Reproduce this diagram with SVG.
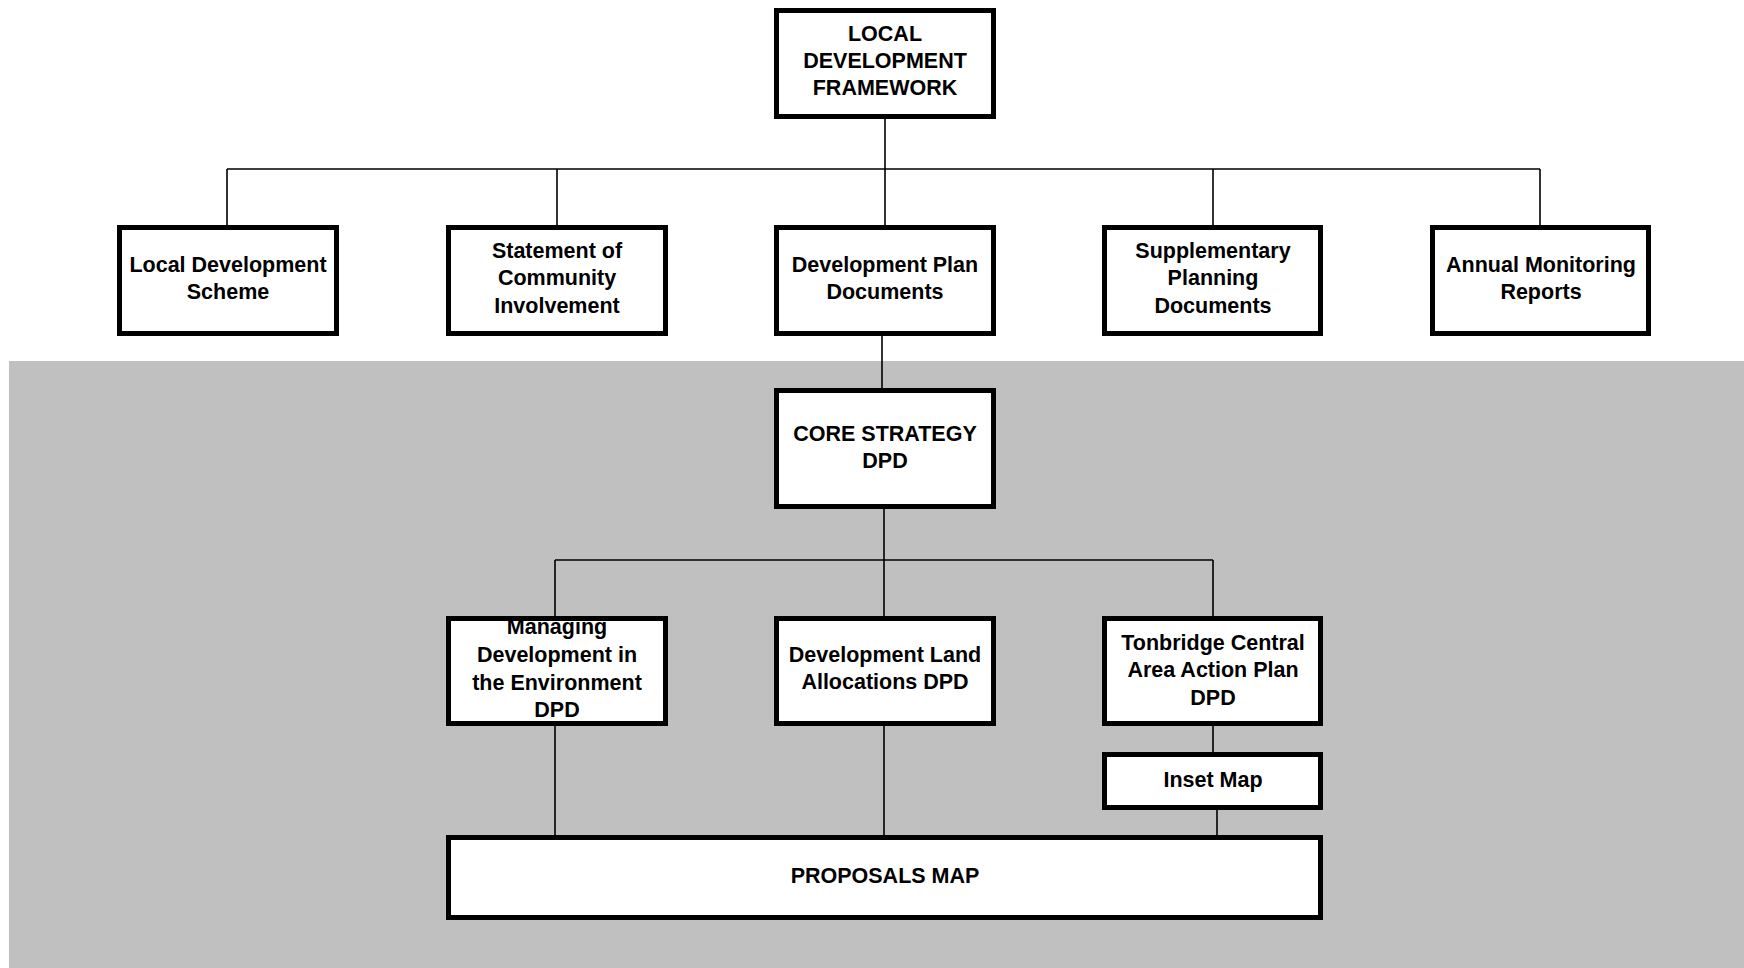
<svg xmlns="http://www.w3.org/2000/svg" width="1744" height="968" viewBox="0 0 1744 968">
<style>
.box{fill:#fff;stroke:#000;stroke-width:5}
.ln{stroke:#000;stroke-width:1.6;fill:none}
text{font-family:"Liberation Sans",Arial,sans-serif;font-weight:bold;font-size:21.5px;fill:#000;text-anchor:middle}
</style>
<rect x="0" y="0" width="1744" height="968" fill="#fff"/>
<rect x="9" y="361" width="1735" height="607" fill="#c0c0c0"/>
<g id="connectors">
<path class="ln" d="M885 118V169M227 169H1540M227 169V225M557 169V225M885 169V225M1213 169V225M1540 169V225"/>
<path class="ln" d="M882 335V388"/>
<path class="ln" d="M884 508V560M555 560H1213M555 560V616M884 560V616M1213 560V616"/>
<path class="ln" d="M555 725V835M884 725V835M1213 725V752M1217 809V835"/>
</g>
<g id="ldf"><rect class="box" x="776.5" y="10.5" width="217" height="106"/>
<text x="885" y="41">LOCAL</text><text x="885" y="68">DEVELOPMENT</text><text x="885" y="95">FRAMEWORK</text></g>
<g id="lds"><rect class="box" x="119.5" y="227.5" width="217" height="106"/>
<text x="228" y="272">Local Development</text><text x="228" y="299">Scheme</text></g>
<g id="sci"><rect class="box" x="448.5" y="227.5" width="217" height="106"/>
<text x="557" y="258">Statement of</text><text x="557" y="285">Community</text><text x="557" y="313">Involvement</text></g>
<g id="dpd"><rect class="box" x="776.5" y="227.5" width="217" height="106"/>
<text x="885" y="272">Development Plan</text><text x="885" y="299">Documents</text></g>
<g id="spd"><rect class="box" x="1104.5" y="227.5" width="216" height="106"/>
<text x="1213" y="258">Supplementary</text><text x="1213" y="285">Planning</text><text x="1213" y="313">Documents</text></g>
<g id="amr"><rect class="box" x="1432.5" y="227.5" width="216" height="106"/>
<text x="1541" y="272">Annual Monitoring</text><text x="1541" y="299">Reports</text></g>
<g id="core"><rect class="box" x="776.5" y="390.5" width="217" height="116"/>
<text x="885" y="441">CORE STRATEGY</text><text x="885" y="468">DPD</text></g>
<g id="mde"><rect class="box" x="448.5" y="618.5" width="217" height="105"/>
<text x="557" y="634">Managing</text><text x="557" y="662">Development in</text><text x="557" y="690">the Environment</text><text x="557" y="717">DPD</text></g>
<g id="dla"><rect class="box" x="776.5" y="618.5" width="217" height="105"/>
<text x="885" y="662">Development Land</text><text x="885" y="689">Allocations DPD</text></g>
<g id="tcaap"><rect class="box" x="1104.5" y="618.5" width="216" height="105"/>
<text x="1213" y="650">Tonbridge Central</text><text x="1213" y="677">Area Action Plan</text><text x="1213" y="705">DPD</text></g>
<g id="inset"><rect class="box" x="1104.5" y="754.5" width="216" height="53"/>
<text x="1213" y="787">Inset Map</text></g>
<g id="proposals"><rect class="box" x="448.5" y="837.5" width="872" height="80"/>
<text x="885" y="883">PROPOSALS MAP</text></g>
</svg>
